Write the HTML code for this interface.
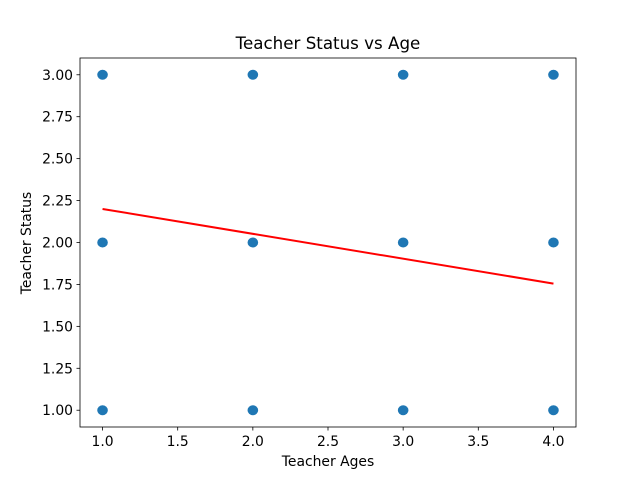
<!DOCTYPE html>
<html><head><meta charset="utf-8"><style>
body{margin:0;background:#fff;font-family:"Liberation Sans","DejaVu Sans",sans-serif}
svg text{font-family:"DejaVu Sans","Liberation Sans",sans-serif}
</style></head><body>
<svg id="chart" width="640" height="480" xmlns="http://www.w3.org/2000/svg">
<rect width="640" height="480" fill="#fff"/>
<g id="plot"></g>
</svg>
<script>
const pointX=[1,1,1,2,2,2,3,3,3,4,4,4];
const pointY=[1,2,3,1,2,3,1,2,3,1,2,3];
const lineX=[1,4];
const lineY=[2.2,1.755];
const xTicks=[1.0,1.5,2.0,2.5,3.0,3.5,4.0];
const yTicks=[1.00,1.25,1.50,1.75,2.00,2.25,2.50,2.75,3.00];
const L=80,R=576,T=58,B=427,x0=0.85,x1=4.15,y0=0.9,y1=3.1;
const sx=v=>L+(v-x0)/(x1-x0)*(R-L);
const sy=v=>B-(v-y0)/(y1-y0)*(B-T);
const g=document.getElementById('plot');
const NS='http://www.w3.org/2000/svg';
function mk(t,a){const e=document.createElementNS(NS,t);for(const k in a)e.setAttribute(k,a[k]);g.appendChild(e);return e;}
pointX.forEach((v,i)=>{const c=mk('ellipse',{cx:sx(v),cy:sy(pointY[i]),rx:5.3,ry:5,fill:'#1f77b4'});

});
const ln=mk('line',{x1:sx(lineX[0]),y1:sy(lineY[0]),x2:sx(lineX[1]),y2:sy(lineY[1]),stroke:'#ff0000','stroke-width':2});


const fr=mk('rect',{x:L,y:T,width:R-L,height:B-T,fill:'none',stroke:'#000','stroke-width':0.8});


xTicks.forEach(v=>{mk('line',{x1:sx(v),x2:sx(v),y1:B,y2:B+3.5,stroke:'#000','stroke-width':0.8});
const t=mk('text',{x:sx(v),y:B+19,'text-anchor':'middle','font-size':13.9});t.textContent=v.toFixed(1);

});
yTicks.forEach(v=>{mk('line',{x1:L-3.5,x2:L,y1:sy(v),y2:sy(v),stroke:'#000','stroke-width':0.8});
const t=mk('text',{x:L-7,y:sy(v)+5,'text-anchor':'end','font-size':13.9});t.textContent=v.toFixed(2);

});
let t=mk('text',{x:328,y:49,'text-anchor':'middle','font-size':16.7});t.textContent='Teacher Status vs Age';


t=mk('text',{x:328,y:466,'text-anchor':'middle','font-size':13.9});t.textContent='Teacher Ages';


t=mk('text',{x:31,y:243,'text-anchor':'middle','font-size':13.9,transform:'rotate(-90 31 243)'});t.textContent='Teacher Status';


</script>
</body></html>
